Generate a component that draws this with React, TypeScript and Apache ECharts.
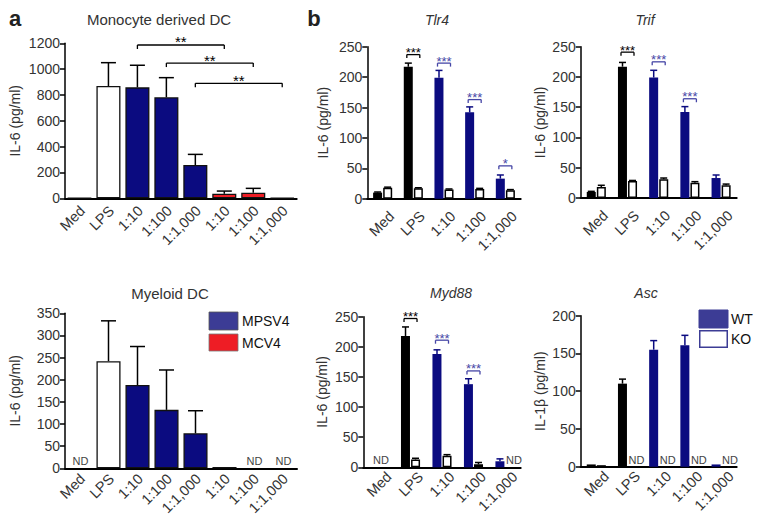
import React, { useEffect, useRef } from "react";
import * as echarts from "echarts";

// ---------- data ----------
const catsA = ["Med", "LPS", "1:10", "1:100", "1:1,000", "1:10", "1:100", "1:1,000"];
const catsB = ["Med", "LPS", "1:10", "1:100", "1:1,000"];

// panel a, Monocyte derived DC
const moDcValues = [2, 869, 859, 782, 258, 35, 43, 4];
const moDcErrTop = [null, 1050, 1030, 934, 340, 56, 77, null];
const moDcColorKey = ["none", "none", "MPSV4", "MPSV4", "MPSV4", "MCV4", "MCV4", "MCV4"];
const moDcSig = [
  [2, 5, 1187, "**"],
  [3, 6, 1047, "**"],
  [4, 7, 890, "**"],
];

// panel a, Myeloid DC
const myDcValues = [null, 242, 188, 132, 79, 3, null, null];
const myDcErrTop = [null, 333, 275, 222, 130, null, null, null];
const myDcND = [0, 6, 7];

// panel b
const tlr4WT = [10, 217, 199, 142, 33];
const tlr4WTErr = [11, 223, 211, 151, 39];
const tlr4KO = [18, 17, 15, 16, 14];
const tlr4KOErr = [19, 18, 16, 17, 15];
const tlr4Sig = [
  [1, 237, "***"],
  [2, 223, "***"],
  [3, 163, "***"],
  [4, 54, "*"],
];

const trifWT = [10, 217, 199, 142, 33];
const trifWTErr = [11, 224, 211, 151, 38];
const trifKO = [18, 28, 31, 25, 21];
const trifKOErr = [21, 29, 33, 27, 23];
const trifSig = [
  [1, 241, "***"],
  [2, 225, "***"],
  [3, 164, "***"],
];

const myd88WT = [null, 218, 188, 138, 10];
const myd88WTErr = [null, 233, 195, 147, 14];
const myd88KO = [null, 13, 19, 5, null];
const myd88KOErr = [null, 15, 21, 8, null];
const myd88Sig = [
  [1, 247, "***"],
  [2, 211, "***"],
  [3, 160, "***"],
];
const myd88NDCenter = [0];
const myd88NDKO = [4];

const ascWT = [3, 110, 155, 161, 3];
const ascWTErr = [null, 116, 167, 174, null];
const ascKO = [2, null, null, null, null];
const ascNDKO = [1, 2, 3, 4];

const stimKey = ["stim", "stim", "MPSV4", "MPSV4", "MPSV4"];

// ---------- styles ----------
const NAVY = "#0b0b80";
const RED = "#ee1d25";
const LEG_BLUE = "#3c3c95";
const SIG_BLUE = "#4646a6";
const TXT = "#333";
const FONT = "'Liberation Sans', Arial, Helvetica, sans-serif";

const colorA = (k: string) => (k === "MPSV4" ? NAVY : k === "MCV4" ? RED : "#ffffff");
const colorWT = (k: string) => (k === "MPSV4" ? NAVY : "#000000");

function xAxisDef(gridIndex: number, cats: string[]) {
  return {
    type: "category",
    gridIndex,
    data: cats,
    axisLine: { lineStyle: { color: "#000", width: 2 } },
    axisTick: { show: false },
    axisLabel: { show: false },
  };
}

function yAxisDef(gridIndex: number, max: number, interval: number, name: string, nameGap: number) {
  return {
    type: "value",
    gridIndex,
    min: 0,
    max,
    interval,
    name,
    nameLocation: "middle",
    nameGap,
    nameTextStyle: { fontSize: 14, color: TXT, fontFamily: FONT },
    splitLine: { show: false },
    axisLine: { show: true, lineStyle: { color: "#000", width: 1.5 } },
    axisTick: { show: true, length: 5, lineStyle: { color: "#000", width: 1.5 } },
    axisLabel: { fontSize: 14, color: TXT, fontFamily: FONT, margin: 5, formatter: (v: number) => String(v) },
  };
}

// rotated category labels placed through the category scale
function catLabelSeries(g: number, cats: string[], dx: number, dy: number) {
  return {
    type: "custom",
    xAxisIndex: g,
    yAxisIndex: g,
    data: cats.map((_, i) => [i, 0]),
    z: 5,
    silent: true,
    renderItem: (params: any, api: any) => {
      const p = api.coord([api.value(0), 0]);
      return {
        type: "text",
        x: p[0] + dx,
        y: p[1] + dy,
        rotation: Math.PI / 4,
        style: {
          text: cats[params.dataIndex],
          fill: TXT,
          fontSize: 14.5,
          fontFamily: FONT,
          align: "right",
          verticalAlign: "middle",
        },
      };
    },
  };
}

function errSeries(g: number, vals: any[], tops: any[], ox: number, capW: number, colors: string[]) {
  const data: any[] = [];
  const cols: string[] = [];
  vals.forEach((v, i) => {
    if (v != null && tops[i] != null) {
      data.push([i, v, tops[i]]);
      cols.push(colors[i]);
    }
  });
  return {
    type: "custom",
    xAxisIndex: g,
    yAxisIndex: g,
    data,
    z: 3,
    silent: true,
    renderItem: (params: any, api: any) => {
      const c = api.value(0);
      const p0 = api.coord([c, api.value(1)]);
      const p1 = api.coord([c, api.value(2)]);
      const x = p0[0] + ox;
      const col = cols[params.dataIndex];
      return {
        type: "group",
        children: [
          { type: "line", shape: { x1: x, y1: p0[1], x2: x, y2: p1[1] }, style: { stroke: col, lineWidth: 1.5 } },
          { type: "line", shape: { x1: x - capW / 2, y1: p1[1], x2: x + capW / 2, y2: p1[1] }, style: { stroke: col, lineWidth: 1.5 } },
        ],
      };
    },
  };
}

function sigSeriesA(g: number, sig: any[]) {
  return {
    type: "custom",
    xAxisIndex: g,
    yAxisIndex: g,
    data: sig.map((s) => [s[0], s[1], s[2]]),
    z: 4,
    silent: true,
    renderItem: (params: any, api: any) => {
      const p1 = api.coord([api.value(0), api.value(2)]);
      const p2 = api.coord([api.value(1), api.value(2)]);
      const st = { stroke: "#000", lineWidth: 1.3 };
      return {
        type: "group",
        children: [
          { type: "line", shape: { x1: p1[0], y1: p1[1], x2: p2[0], y2: p2[1] }, style: st },
          { type: "line", shape: { x1: p1[0], y1: p1[1], x2: p1[0], y2: p1[1] + 4 }, style: st },
          { type: "line", shape: { x1: p2[0], y1: p2[1], x2: p2[0], y2: p2[1] + 4 }, style: st },
          {
            type: "text",
            x: (p1[0] + p2[0]) / 2,
            y: p1[1] - 3,
            style: { text: sig[params.dataIndex][3], fill: "#000", fontSize: 15, fontFamily: FONT, align: "center", verticalAlign: "middle" },
          },
        ],
      };
    },
  };
}

function sigSeriesB(g: number, sig: any[]) {
  return {
    type: "custom",
    xAxisIndex: g,
    yAxisIndex: g,
    data: sig.map((s) => [s[0], s[1]]),
    z: 4,
    silent: true,
    renderItem: (params: any, api: any) => {
      const c = api.value(0);
      const p = api.coord([c, api.value(1)]);
      const col = stimKey[c] === "MPSV4" ? SIG_BLUE : "#000";
      const st = { stroke: col, lineWidth: 1.3 };
      const x1 = p[0] - 6.5;
      const x2 = p[0] + 6.5;
      return {
        type: "group",
        children: [
          { type: "line", shape: { x1, y1: p[1], x2, y2: p[1] }, style: st },
          { type: "line", shape: { x1, y1: p[1], x2: x1, y2: p[1] + 3.5 }, style: st },
          { type: "line", shape: { x1: x2, y1: p[1], x2, y2: p[1] + 3.5 }, style: st },
          {
            type: "text",
            x: p[0],
            y: p[1] - 2,
            style: { text: sig[params.dataIndex][2], fill: col, fontSize: 13, fontFamily: FONT, align: "center", verticalAlign: "middle" },
          },
        ],
      };
    },
  };
}

function ndSeries(g: number, cats: number[], ox: number, align: string) {
  return {
    type: "custom",
    xAxisIndex: g,
    yAxisIndex: g,
    data: cats.map((c) => [c, 0]),
    z: 4,
    silent: true,
    renderItem: (params: any, api: any) => {
      const p = api.coord([api.value(0), 0]);
      return {
        type: "text",
        x: p[0] + ox,
        y: p[1] - 1.5,
        style: { text: "ND", fill: "#444", fontSize: 11, fontFamily: FONT, align, verticalAlign: "bottom" },
      };
    },
  };
}

function barA(g: number, vals: any[]) {
  return {
    type: "bar",
    xAxisIndex: g,
    yAxisIndex: g,
    barCategoryGap: "17%",
    data: vals.map((v, i) => ({ value: v == null ? "-" : v, itemStyle: { color: colorA(moDcColorKey[i]) } })),
    itemStyle: { borderColor: "#111", borderWidth: 1.3 },
    z: 2,
    silent: true,
  };
}

function barsB(g: number, wt: any[], ko: any[]) {
  return [
    {
      type: "bar",
      xAxisIndex: g,
      yAxisIndex: g,
      barWidth: 9,
      barGap: "12%",
      data: wt.map((v, i) => ({ value: v == null ? "-" : v, itemStyle: { color: colorWT(stimKey[i]) } })),
      z: 2,
      silent: true,
    },
    {
      type: "bar",
      xAxisIndex: g,
      yAxisIndex: g,
      barWidth: 9,
      barGap: "12%",
      data: ko.map((v) => (v == null ? "-" : v)),
      itemStyle: { color: "#fff", borderColor: "#000", borderWidth: 1.5 },
      z: 2,
      silent: true,
    },
  ];
}

const blackArr = (n: number) => Array(n).fill("#000");
const wtErrColors = stimKey.map((k) => colorWT(k));

export default function App() {
  const ref = useRef<HTMLDivElement>(null);
  useEffect(() => {
    if (!ref.current) return;
    const chart = echarts.init(ref.current, null, { renderer: "svg" });
    const textEl = (text: string, x: number, y: number, extra: any = {}) => ({
      type: "text",
      x,
      y,
      style: { text, fill: TXT, fontSize: 15, fontFamily: FONT, align: "center", verticalAlign: "middle", ...extra },
    });
    const option: any = {
      animation: false,
      backgroundColor: "#fff",
      grid: [
        { left: 65, top: 43.3, width: 231.7, height: 155 },
        { left: 65, top: 313.3, width: 232, height: 155 },
        { left: 367.3, top: 46.7, width: 153.4, height: 152 },
        { left: 580.7, top: 46.7, width: 156, height: 151.3 },
        { left: 363.3, top: 316.7, width: 157.4, height: 150.6 },
        { left: 580.7, top: 315.7, width: 156, height: 151 },
      ],
      xAxis: [
        xAxisDef(0, catsA),
        xAxisDef(1, catsA),
        xAxisDef(2, catsB),
        xAxisDef(3, catsB),
        xAxisDef(4, catsB),
        xAxisDef(5, catsB),
      ],
      yAxis: [
        yAxisDef(0, 1200, 200, "IL-6 (pg/ml)", 43),
        yAxisDef(1, 350, 50, "IL-6 (pg/ml)", 43),
        yAxisDef(2, 250, 50, "IL-6 (pg/ml)", 37),
        yAxisDef(3, 250, 50, "IL-6 (pg/ml)", 34),
        yAxisDef(4, 250, 50, "IL-6 (pg/ml)", 34),
        yAxisDef(5, 200, 50, "IL-1β (pg/ml)", 34),
      ],
      series: [
        barA(0, moDcValues),
        errSeries(0, moDcValues, moDcErrTop, 0, 15, blackArr(8)),
        sigSeriesA(0, moDcSig),
        catLabelSeries(0, catsA, 3, 10),
        barA(1, myDcValues),
        errSeries(1, myDcValues, myDcErrTop, 0, 15, blackArr(8)),
        ndSeries(1, myDcND, 1, "center"),
        catLabelSeries(1, catsA, 3, 8),
        ...barsB(2, tlr4WT, tlr4KO),
        errSeries(2, tlr4WT, tlr4WTErr, -5, 7, wtErrColors),
        errSeries(2, tlr4KO, tlr4KOErr, 5, 7, blackArr(5)),
        sigSeriesB(2, tlr4Sig),
        catLabelSeries(2, catsB, 9, 15),
        ...barsB(3, trifWT, trifKO),
        errSeries(3, trifWT, trifWTErr, -5, 7, wtErrColors),
        errSeries(3, trifKO, trifKOErr, 5, 7, blackArr(5)),
        sigSeriesB(3, trifSig),
        catLabelSeries(3, catsB, 9, 15),
        ...barsB(4, myd88WT, myd88KO),
        errSeries(4, myd88WT, myd88WTErr, -5, 7, wtErrColors),
        errSeries(4, myd88KO, myd88KOErr, 5, 7, blackArr(5)),
        sigSeriesB(4, myd88Sig),
        ndSeries(4, myd88NDCenter, 2, "center"),
        ndSeries(4, myd88NDKO, 1, "left"),
        catLabelSeries(4, catsB, 10, 7),
        ...barsB(5, ascWT, ascKO),
        errSeries(5, ascWT, ascWTErr, -5, 7, wtErrColors),
        ndSeries(5, ascNDKO, 1, "left"),
        catLabelSeries(5, catsB, 10, 7),
      ],
      graphic: [
        textEl("a", 15, 18, { fontSize: 22, fontWeight: "bold", fill: "#222" }),
        textEl("b", 314, 18, { fontSize: 22, fontWeight: "bold", fill: "#222" }),
        textEl("Monocyte derived DC", 159, 19),
        textEl("Myeloid DC", 170, 293),
        textEl("Tlr4", 437, 20, { fontStyle: "italic", fontSize: 14 }),
        textEl("Trif", 645, 20, { fontStyle: "italic", fontSize: 14 }),
        textEl("Myd88", 451, 293, { fontStyle: "italic", fontSize: 14 }),
        textEl("Asc", 646, 293, { fontStyle: "italic", fontSize: 14 }),
        { type: "rect", shape: { x: 209, y: 312, width: 29, height: 18 }, style: { fill: LEG_BLUE, stroke: "#555", lineWidth: 0.8 } },
        { type: "rect", shape: { x: 209, y: 334, width: 29, height: 17 }, style: { fill: RED, stroke: "#777", lineWidth: 0.8 } },
        textEl("MPSV4", 242, 321, { align: "left", fill: "#111", fontSize: 14 }),
        textEl("MCV4", 242, 343, { align: "left", fill: "#111", fontSize: 14 }),
        { type: "rect", shape: { x: 699, y: 310, width: 29, height: 18 }, style: { fill: LEG_BLUE, stroke: LEG_BLUE, lineWidth: 1 } },
        { type: "rect", shape: { x: 699.75, y: 330.75, width: 27.5, height: 16.5 }, style: { fill: "#fff", stroke: LEG_BLUE, lineWidth: 1.5 } },
        textEl("WT", 731, 319, { align: "left", fill: "#111", fontSize: 14 }),
        textEl("KO", 731, 339, { align: "left", fill: "#111", fontSize: 14 }),
      ],
    };
    chart.setOption(option);
    return () => chart.dispose();
  }, []);
  return (
    <div
      ref={ref}
      style={{ position: "fixed", left: 0, top: 0, width: 764, height: 519, background: "#fff" }}
    />
  );
}
